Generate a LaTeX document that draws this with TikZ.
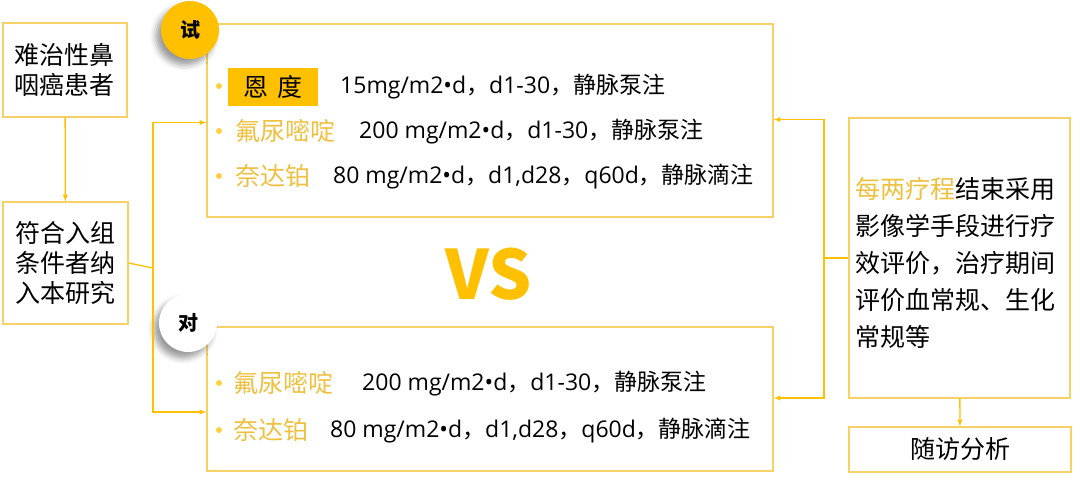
\documentclass[tikz,border=0pt]{standalone}
\usepackage{fontspec}
\setmainfont{Noto Sans CJK SC}
\newfontfamily\lat{Open Sans}
\usetikzlibrary{positioning,shadows.blur}
\definecolor{gold}{HTML}{FFC000}
\definecolor{boxline}{HTML}{F6D165}
\definecolor{drugtxt}{HTML}{EEC040}
\newcommand{\lt}[1]{{\lat #1}}
\begin{document}
\begin{tikzpicture}[x=1pt,y=-1pt,
    box/.style={draw=boxline, line width=1.3pt, align=center, font=\fontsize{25}{30}\selectfont},
    arrow/.style={draw=gold, line width=1.3pt, -latex},
    drug/.style={anchor=west, inner sep=0pt, text=drugtxt, font=\fontsize{25}{28}\selectfont},
    dose/.style={anchor=west, inner sep=0pt, font=\fontsize{23}{26}\selectfont},
    bul/.style={circle, fill=gold!75, inner sep=0pt, minimum size=6pt},
    tag/.style={circle, inner sep=0pt, font=\fontsize{20}{20}\selectfont\bfseries,
        blur shadow={shadow xshift=-5pt, shadow yshift=-6pt, shadow blur radius=6pt}}]
    \useasboundingbox (0,0) rectangle (1080,491);
    % left column
    \node[box, minimum width=124pt, minimum height=94pt] (patient) at (65,70) {难治性鼻\\咽癌患者};
    \node[box, minimum width=125pt, minimum height=122pt] (eligible) at (65.5,263) {符合入组\\条件者纳\\入本研究};
    % the two arms
    \node[box, minimum width=566pt, minimum height=193pt] (trial) at (490,120.5) {};
    \node[box, minimum width=566pt, minimum height=144pt] (ctrl) at (490,399) {};
    \node[tag, fill=gold, minimum size=58pt] (tagT) at (190,30) {试};
    \node[tag, fill=white, minimum size=58pt] (tagC) at (188,323) {对};
    % trial arm
    \node[bul] (b1) at (219,86) {};
    \node[fill=gold, minimum width=90pt, minimum height=38pt, inner sep=0pt, font=\fontsize{25}{28}\selectfont] (endo) at (273,87) {恩\hspace{9pt}度};
    \node[dose] (d1) at (340,87) {\lt{15mg/m2•d}，\lt{d1-30}，静脉泵注};
    \node[bul] (b2) at (219,131) {};
    \node[drug] (fu1) at (235,131) {氟尿嘧啶};
    \node[dose] (d2) at (359,132) {\lt{200 mg/m2•d}，\lt{d1-30}，静脉泵注};
    \node[bul] (b3) at (219,176) {};
    \node[drug] (ned1) at (235,176) {奈达铂};
    \node[dose] (d3) at (333,177) {\lt{80 mg/m2•d}，\lt{d1,d28}，\lt{q60d}，静脉滴注};
    % control arm
    \node[bul] (b4) at (219,383) {};
    \node[drug] (fu2) at (233,383) {氟尿嘧啶};
    \node[dose] (d4) at (362,384) {\lt{200 mg/m2•d}，\lt{d1-30}，静脉泵注};
    \node[bul] (b5) at (219,430) {};
    \node[drug] (ned2) at (233,430) {奈达铂};
    \node[dose] (d5) at (330,431) {\lt{80 mg/m2•d}，\lt{d1,d28}，\lt{q60d}，静脉滴注};
    \node[text=gold, font=\fontsize{68}{70}\selectfont\bfseries] (vs) at (489,274) {VS};
    % right column
    \node[box, minimum width=221pt, minimum height=280pt] (assess) at (959.5,258) {};
    \node[align=left, font=\fontsize{25}{37}\selectfont] (assesstxt) at ([xshift=-4pt,yshift=-5pt]assess.center)
        {{\color{drugtxt}每两疗程}结束采用\\影像学手段进行疗\\效评价，治疗期间\\评价血常规、生化\\常规等};
    \node[box, minimum width=222pt, minimum height=45pt] (follow) at (960,449.5) {随访分析};
    % connectors
    \coordinate (fork) at (153,268);
    \coordinate (join) at (824,258);
    \draw[arrow] (patient) -- (eligible);
    \draw[draw=gold, line width=1.3pt] (eligible.east) -- (fork);
    \draw[arrow] (fork) |- ([yshift=-2pt]trial.west);
    \draw[arrow] (fork) |- ([yshift=-13pt]ctrl.west);
    \draw[draw=gold, line width=1.3pt] (assess.west) -- (join);
    \draw[arrow] (join) |- ([yshift=1pt]trial.east);
    \draw[arrow] (join) |- ([yshift=1pt]ctrl.east);
    \draw[arrow] (assess) -- (follow);
\end{tikzpicture}
\end{document}
